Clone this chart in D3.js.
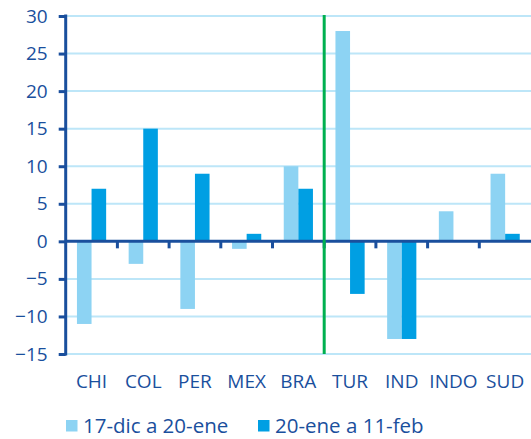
<!DOCTYPE html>
<html>
<head>
<meta charset="utf-8">
<script src="https://cdn.jsdelivr.net/npm/d3@7"></script>
<style>
  body { margin: 0; background: #fff; }
  svg text { font-family: "Open Sans", "Noto Sans", sans-serif; fill: #1a4f9d; }
</style>
</head>
<body>
<div id="chart"></div>
<script>
// data
var categories = ["CHI", "COL", "PER", "MEX", "BRA", "TUR", "IND", "INDO", "SUD"];
var seriesNames = ["17-dic a 20-ene", "20-ene a 11-feb"];
var serie1 = [-11, -3, -9, -1, 10, 28, -13, 4, 9];
var serie2 = [7, 15, 9, 1, 7, -7, -13, 0, 1];
var yTicks = [-15, -10, -5, 0, 5, 10, 15, 20, 25, 30];

var width = 531, height = 439;
var plotLeft = 65.7, plotRight = 531, plotTop = 16, plotBottom = 354;
var colors = ["#8dd3f3", "#009fe3"];
var axisColor = "#1a4f9d";

var svg = d3.select("#chart").append("svg")
    .attr("width", width)
    .attr("height", height);

var x = d3.scaleBand().domain(categories).range([plotLeft, plotRight]).padding(0);
var xs = d3.scaleBand().domain([0, 1]).range([0, 29.2]).padding(0);
var y = d3.scaleLinear().domain([-15, 30]).range([plotBottom, plotTop]);

// gridlines
svg.append("g").selectAll("line")
    .data(yTicks.filter(function(d){ return d !== 0; }))
    .enter().append("line")
    .attr("x1", plotLeft).attr("x2", plotRight)
    .attr("y1", function(d){ return y(d); })
    .attr("y2", function(d){ return y(d); })
    .style("stroke", "#bde6f8")
    .style("stroke-width", 2);

// bars
var rows = categories.map(function(c, i){ return {cat: c, vals: [serie1[i], serie2[i]]}; });
var groups = svg.append("g").selectAll("g")
    .data(rows).enter().append("g")
    .attr("transform", function(d){ return "translate(" + (x(d.cat) + x.bandwidth()/2 - 14.6) + ",0)"; });

groups.selectAll("rect")
    .data(function(d){ return d.vals.map(function(v, k){ return {k: k, v: v}; }); })
    .enter().append("rect")
    .attr("x", function(d){ return xs(d.k); })
    .attr("width", xs.bandwidth())
    .attr("y", function(d){ return y(Math.max(0, d.v)); })
    .attr("height", function(d){ return Math.abs(y(d.v) - y(0)); })
    .style("fill", function(d){ return colors[d.k]; });

// zero line with category ticks
svg.append("line")
    .attr("x1", plotLeft).attr("x2", plotRight)
    .attr("y1", y(0)).attr("y2", y(0))
    .style("stroke", axisColor).style("stroke-width", 3);

svg.append("g").selectAll("line")
    .data(categories.slice(1))
    .enter().append("line")
    .attr("x1", function(d){ return x(d); })
    .attr("x2", function(d){ return x(d); })
    .attr("y1", y(0)).attr("y2", y(0) + 7)
    .style("stroke", axisColor).style("stroke-width", 3);

// green separator between BRA and TUR
svg.append("line")
    .attr("x1", x("TUR")).attr("x2", x("TUR"))
    .attr("y1", plotTop - 1).attr("y2", plotBottom)
    .style("stroke", "#00b050").style("stroke-width", 3);

// y axis
var yAxis = svg.append("g")
    .attr("transform", "translate(" + plotLeft + ",0)")
    .call(d3.axisLeft(y).tickValues(yTicks).tickSize(7).tickPadding(11));
yAxis.select(".domain").remove();
yAxis.selectAll(".tick line").style("stroke", axisColor).style("stroke-width", 3);
yAxis.selectAll(".tick text")
    .style("font-family", "'Open Sans', 'Noto Sans', sans-serif")
    .style("font-size", "19px")
    .style("fill", axisColor);
yAxis.append("line")
    .attr("x1", 0).attr("x2", 0)
    .attr("y1", plotTop - 1.5).attr("y2", plotBottom + 1.5)
    .style("stroke", axisColor).style("stroke-width", 3);

// category labels
svg.append("g").selectAll("text")
    .data(categories).enter().append("text")
    .attr("x", function(d){ return x(d) + x.bandwidth()/2; })
    .attr("y", 388)
    .attr("text-anchor", "middle")
    .style("font-size", "19px")
    .text(function(d){ return d; });

// legend
var legendX = [66, 258];
var legend = svg.append("g").selectAll("g")
    .data(seriesNames).enter().append("g")
    .attr("transform", function(d, i){ return "translate(" + legendX[i] + ",0)"; });
legend.append("rect")
    .attr("x", 0).attr("y", 420)
    .attr("width", 11.5).attr("height", 11.5)
    .style("fill", function(d, i){ return colors[i]; });
legend.append("text")
    .attr("x", 17).attr("y", 433)
    .style("font-size", "20.5px")
    .text(function(d){ return d; });
</script>
</body>
</html>
